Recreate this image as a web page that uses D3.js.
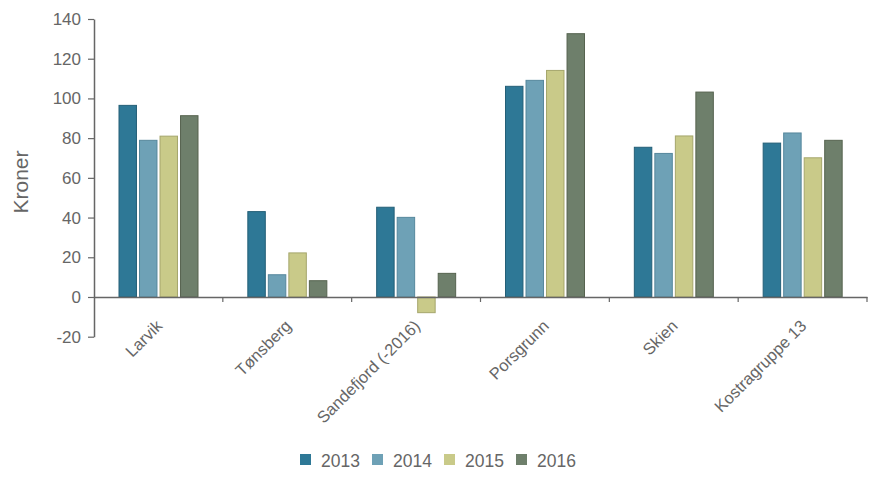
<!DOCTYPE html>
<html><head><meta charset="utf-8">
<script src="https://cdn.jsdelivr.net/npm/d3@7"></script>
<style>body{margin:0;background:#fff;font-family:"Liberation Sans",Arial,sans-serif;}</style>
</head><body><svg id="c" width="876" height="494"></svg>
<script>
const categories = ["Larvik","Tønsberg","Sandefjord (-2016)","Porsgrunn","Skien","Kostragruppe 13"];
const years = ["2013","2014","2015","2016"];
const v2013 = [96.5, 43, 45.2, 106.1, 75.4, 77.5];
const v2014 = [78.9, 11.2, 40.1, 109.1, 72.3, 82.6];
const v2015 = [81, 22.2, -7.9, 114.1, 81.1, 70.1];
const v2016 = [91.3, 8.2, 11.9, 132.6, 103.2, 78.9];
const yTicks = [-20,0,20,40,60,80,100,120,140];
const colors = ["#2e7896","#6ea1b6","#c9ca89","#6e7f6b"];
const strokes = ["#245f77","#55879c","#a5a66c","#56634f"];
const series = [v2013, v2014, v2015, v2016];

const svg = d3.select("#c");
const L = 94, R = 867;
const y = d3.scaleLinear().domain([-20,140]).range([336.7, 19]);
const x = d3.scaleBand().domain(categories).range([L, R]).paddingInner(0).paddingOuter(0);
const xs = d3.scaleBand().domain(years).range([24.5, 104.5]).paddingInner(0.1).paddingOuter(0);

const grey = "#666";
// bars
categories.forEach((c, i) => {
  const g = svg.append("g").attr("transform", `translate(${x(c)},0)`);
  years.forEach((yr, k) => {
    const v = series[k][i];
    g.append("rect")
      .attr("x", xs(yr) + 0.5).attr("width", xs.bandwidth() - 1)
      .attr("y", y(Math.max(0, v))).attr("height", Math.abs(y(v) - y(0)))
      .attr("fill", colors[k]).attr("stroke", strokes[k]).attr("stroke-width", 1);
  });
});

// y axis
const ya = svg.append("g").attr("transform", `translate(${L},0)`)
  .call(d3.axisLeft(y).tickValues(yTicks).tickFormat(d => String(d)).tickSize(6).tickSizeOuter(0).tickPadding(7));
ya.select(".domain").attr("stroke", grey).attr("stroke-width", 1.5);
ya.selectAll(".tick line").attr("stroke", grey).attr("stroke-width", 1.2);
ya.selectAll(".tick text").attr("fill", "#666").attr("font-size", 17).attr("font-family", "Liberation Sans, Arial, sans-serif");

// x axis at zero
const xa = svg.append("g").attr("transform", `translate(0,${y(0)})`)
  .call(d3.axisBottom(x).tickSize(0).tickFormat(""));
xa.select(".domain").attr("stroke", grey).attr("stroke-width", 1.5);
const bounds = categories.map(c => x(c) + x.bandwidth());
svg.append("g").selectAll("line").data(bounds).join("line")
  .attr("x1", d => d).attr("x2", d => d).attr("y1", y(0)).attr("y2", y(0) + 5)
  .attr("stroke", grey).attr("stroke-width", 1.2);

// x labels
svg.append("g").selectAll("text").data(categories).join("text")
  .attr("transform", d => `translate(${x(d) + x.bandwidth()/2 + 5},${327}) rotate(-45)`)
  .attr("text-anchor", "end").attr("font-size", 16.5).attr("fill", "#666")
  .text(d => d);

// y title
svg.append("text").attr("transform", "translate(28,182) rotate(-90)")
  .attr("text-anchor", "middle").attr("font-size", 21).attr("fill", "#666").text("Kroner");

// legend
const lg = svg.append("g").attr("transform", "translate(300,467)");
years.forEach((yr, k) => {
  const gx = k * 72;
  lg.append("rect").attr("x", gx).attr("y", -13).attr("width", 11).attr("height", 11)
    .attr("fill", colors[k]);
  lg.append("text").attr("x", gx + 21).attr("y", 0).attr("font-size", 17.5).attr("fill", "#666").text(yr);
});
</script></body></html>
